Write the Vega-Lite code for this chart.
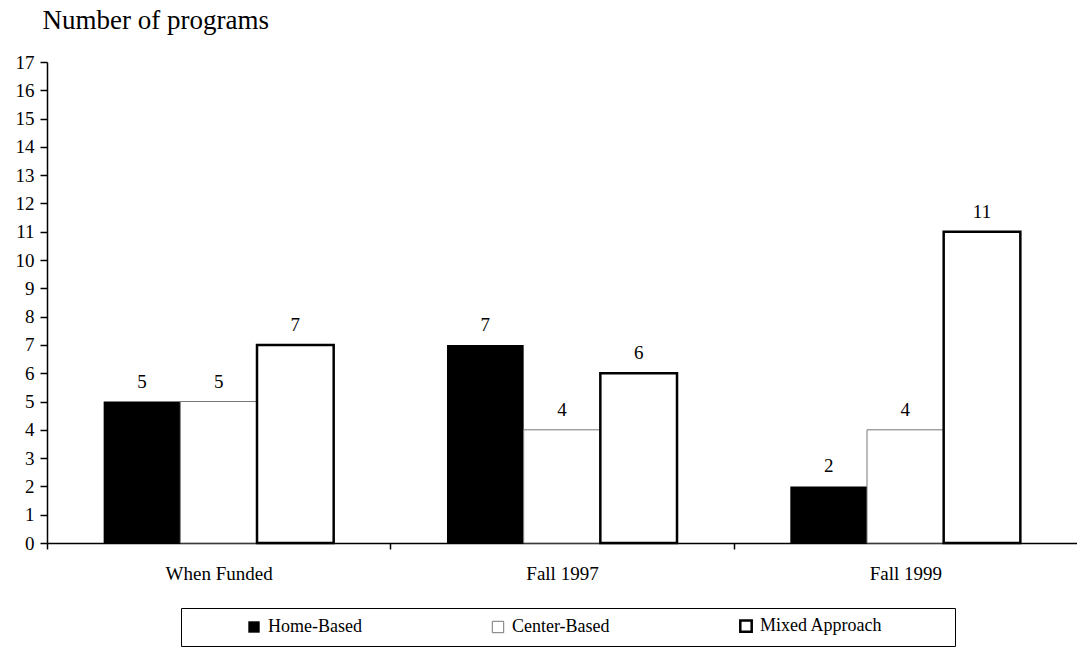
{
  "$schema": "https://vega.github.io/schema/vega-lite/v6.json",
  "autosize": {"type": "none"},
  "padding": {"left": 47, "top": 62, "right": 0, "bottom": 104},
  "width": 1030,
  "height": 481,
  "background": "white",
  "config": {
    "view": {"stroke": null},
    "font": "Liberation Serif",
    "axis": {"labelFont": "Liberation Serif", "titleFont": "Liberation Serif", "labelColor": "black", "titleColor": "black", "domainColor": "black", "tickColor": "black", "grid": false},
    "legend": {"labelFont": "Liberation Serif", "titleFont": "Liberation Serif"}
  },
  "data": {
    "values": [
      {"period": "When Funded", "type": "Home-Based", "value": 5},
      {"period": "When Funded", "type": "Center-Based", "value": 5},
      {"period": "When Funded", "type": "Mixed Approach", "value": 7},
      {"period": "Fall 1997", "type": "Home-Based", "value": 7},
      {"period": "Fall 1997", "type": "Center-Based", "value": 4},
      {"period": "Fall 1997", "type": "Mixed Approach", "value": 6},
      {"period": "Fall 1999", "type": "Home-Based", "value": 2},
      {"period": "Fall 1999", "type": "Center-Based", "value": 4},
      {"period": "Fall 1999", "type": "Mixed Approach", "value": 11}
    ]
  },
  "encoding": {
    "x": {
      "field": "period", "type": "nominal",
      "sort": ["When Funded", "Fall 1997", "Fall 1999"],
      "scale": {"paddingInner": 0.33, "paddingOuter": 0.165},
      "axis": {
        "title": null, "labelAngle": 0, "labelFontSize": 19, "labelPadding": 15,
        "tickSize": 6, "tickOffset": -171.7, "labelOffset": 171.7, "bandPosition": 0.5,
        "domainWidth": 1.5, "tickWidth": 1.5
      }
    },
    "xOffset": {
      "field": "type", "type": "nominal",
      "sort": ["Home-Based", "Center-Based", "Mixed Approach"],
      "scale": {"paddingInner": 0, "paddingOuter": 0}
    },
    "y": {
      "field": "value", "type": "quantitative",
      "scale": {"domain": [0, 17], "nice": false},
      "axis": {
        "values": [0,1,2,3,4,5,6,7,8,9,10,11,12,13,14,15,16,17],
        "title": "Number of programs", "titleAngle": 0, "titleAlign": "left", "titleBaseline": "alphabetic",
        "titleX": -5, "titleY": -34, "titleFontSize": 27, "titleFontWeight": "normal",
        "labelFontSize": 19, "labelPadding": 6, "tickSize": 7, "domainWidth": 1.5, "tickWidth": 1.5
      }
    }
  },
  "layer": [
    {
      "mark": {"type": "bar"},
      "encoding": {
        "fill": {
          "field": "type", "type": "nominal",
          "sort": ["Home-Based", "Center-Based", "Mixed Approach"],
          "scale": {"domain": ["Home-Based", "Center-Based", "Mixed Approach"], "range": ["black", "white", "white"]},
          "legend": {
            "title": "\u00a0", "titleOrient": "right", "titlePadding": 64, "titleFontSize": 10,
            "orient": "none", "direction": "horizontal",
            "legendX": 134, "legendY": 546, "padding": 9,
            "strokeColor": "black", "fillColor": "white",
            "symbolType": "square", "symbolSize": 130, "symbolOffset": 55,
            "labelFontSize": 18, "labelColor": "black", "labelOffset": 5,
            "columnPadding": 72, "labelLimit": 300
          }
        },
        "stroke": {
          "field": "type", "type": "nominal",
          "sort": ["Home-Based", "Center-Based", "Mixed Approach"],
          "scale": {"domain": ["Home-Based", "Center-Based", "Mixed Approach"], "range": ["black", "#777777", "black"]},
          "legend": null
        },
        "strokeWidth": {
          "field": "type", "type": "nominal",
          "sort": ["Home-Based", "Center-Based", "Mixed Approach"],
          "scale": {"type": "ordinal", "domain": ["Home-Based", "Center-Based", "Mixed Approach"], "range": [0, 1, 2.5]},
          "legend": null
        }
      }
    },
    {
      "mark": {"type": "text", "baseline": "alphabetic", "dy": -14, "fontSize": 19, "font": "Liberation Serif", "color": "black"},
      "encoding": {
        "text": {"field": "value", "type": "quantitative"}
      }
    }
  ]
}
